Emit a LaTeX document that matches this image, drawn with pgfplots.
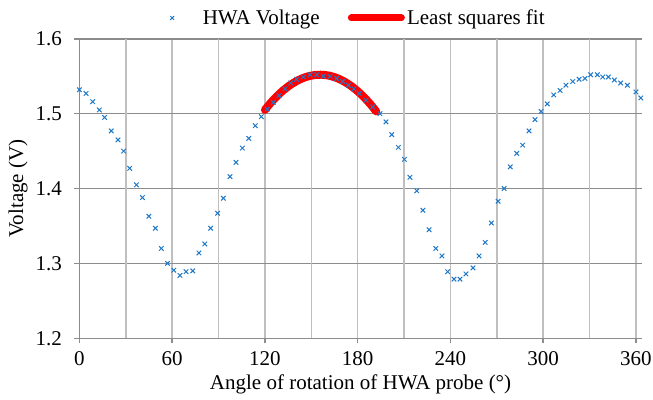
\documentclass[border=0pt]{standalone}
\usepackage{pgfplots}
\pgfplotsset{compat=1.18}
\usepackage{fontspec}
\setmainfont{Liberation Serif}

\definecolor{hwablue}{RGB}{30,120,200}
\definecolor{gridlight}{RGB}{191,191,191}
\definecolor{griddark}{RGB}{140,140,140}

\newcommand{\chartfont}{\fontsize{21bp}{25bp}\selectfont}

\begin{document}
\begin{tikzpicture}
\path[use as bounding box] (0bp,0bp) rectangle (653bp,400bp);
\begin{axis}[
  at={(79.4bp,61.7bp)}, anchor=south west,
  scale only axis, width=562.3bp, height=299.5bp,
  xmin=0, xmax=363.7, ymin=1.2, ymax=1.6,
  clip=false,
  axis x line*=bottom, axis y line*=left,
  axis line style={griddark, line width=1.5bp},
  xtick={0,60,120,180,240,300,360},
  extra x ticks={30,90,150,210,270,330},
  extra x tick labels={},
  extra x tick style={major tick length=0bp, xmajorgrids,
    major x grid style={gridlight, line width=1.5bp}},
  ytick={1.2,1.3,1.4,1.5,1.6},
  /pgf/number format/assume math mode=true,
  tick label style={font=\chartfont},
  xticklabel style={yshift=-5bp},
  yticklabel style={xshift=-9bp, /pgf/number format/.cd, fixed, fixed zerofill, precision=1},
  tick align=outside,
  major tick length=5bp,
  tick style={griddark, line width=1.5bp},
  xmajorgrids, ymajorgrids,
  major x grid style={gridlight, line width=1.5bp},
  major y grid style={griddark, line width=1.5bp},
  xlabel={Angle of rotation of HWA probe (°)},
  ylabel={Voltage (V)},
  every axis x label/.style={at={(axis description cs:0.5,0)}, anchor=center, yshift=-46bp, font=\chartfont},
  every axis y label/.style={at={(axis description cs:0,0.5)}, anchor=center, rotate=90, yshift=61.4bp, font=\chartfont},
  legend columns=2,
  legend style={draw=none, fill=none, font=\chartfont,
    at={(0.5,1)}, anchor=center, xshift=-15.5bp, yshift=20.8bp,
    /tikz/every even column/.append style={column sep=26bp}},
]
% legend entries
\addlegendimage{legend image code/.code={%
  \path (0bp,0bp) (57bp,0bp);
  \draw[hwablue, line width=0.9bp] plot[mark=x, mark size=2.6bp] coordinates {(28.5bp,0bp)};}}
\addlegendentry{HWA Voltage}
\addlegendimage{legend image code/.code={%
  \path (0bp,0bp) (57bp,0bp);
  \draw[red, line width=7bp, line cap=round] (3.5bp,0bp) -- (53.5bp,0bp);}}
\addlegendentry{Least squares fit}

% least squares fit over the peak region
\addplot[red, line width=8bp, line cap=round, line join=round, forget plot] coordinates {
(120,1.5051) (122,1.5102) (124,1.5151) (126,1.5196) (128,1.5238) (130,1.5278)
(132,1.5314) (134,1.5347) (136,1.5378) (138,1.5405) (140,1.5430) (142,1.5452)
(144,1.5470) (146,1.5486) (148,1.5499) (150,1.5508) (152,1.5515) (154,1.5519)
(156,1.5520) (158,1.5518) (160,1.5513) (162,1.5505) (164,1.5494) (166,1.5480)
(168,1.5463) (170,1.5443) (172,1.5420) (174,1.5395) (176,1.5366) (178,1.5334)
(180,1.5300) (182,1.5262) (184,1.5222) (186,1.5178) (188,1.5132) (190,1.5082)
(192,1.5030)
};

% measured HWA voltage
\addplot[only marks, mark=x, mark size=3.2bp, hwablue, mark options={line width=1bp}, forget plot] coordinates {
(0,1.532) (4.3,1.527) (8.6,1.516) (12.9,1.505) (16.3,1.495) (20.6,1.477)
(25.0,1.465) (28.6,1.450) (32.5,1.427) (36.9,1.405) (40.8,1.388) (44.9,1.363)
(49.1,1.347) (53.0,1.320) (57.0,1.300) (61.1,1.291) (65.0,1.284) (69.0,1.289)
(73.3,1.290) (77.3,1.314) (81.1,1.326) (84.9,1.347) (89.4,1.367) (93.1,1.387)
(97.4,1.416) (101.3,1.435) (105.4,1.454) (109.5,1.467) (113.8,1.484) (117.7,1.496)
(121.5,1.506) (125.4,1.515) (129.1,1.524) (133.0,1.533) (136.7,1.541) (140.5,1.546)
(144.8,1.549) (149.2,1.552) (153.5,1.552) (157.8,1.550) (162.1,1.550) (166.4,1.547)
(170.3,1.543) (174.0,1.538) (177.6,1.533) (181.0,1.527) (185.4,1.518) (189.7,1.509)
(194.4,1.500) (198.3,1.489) (202.0,1.472) (206.3,1.455) (210.2,1.439) (213.8,1.415)
(218.2,1.397) (222.2,1.371) (226.2,1.345) (230.5,1.320) (234.5,1.310) (238.2,1.289)
(242.3,1.279) (246.2,1.279) (250.0,1.286) (254.6,1.294) (258.5,1.310) (262.5,1.328)
(266.5,1.354) (270.8,1.383) (274.7,1.400) (278.7,1.429) (282.9,1.447) (286.7,1.458)
(290.8,1.477) (294.7,1.492) (298.6,1.503) (302.6,1.513) (306.8,1.525) (310.9,1.531)
(314.7,1.538) (319.1,1.543) (323.2,1.546) (327.0,1.547) (330.7,1.552) (335.0,1.552)
(338.5,1.549) (342.1,1.549) (346.0,1.545) (350.1,1.541) (354.4,1.538) (360.0,1.529)
(363.1,1.521)
};
\end{axis}
\end{tikzpicture}
\end{document}
